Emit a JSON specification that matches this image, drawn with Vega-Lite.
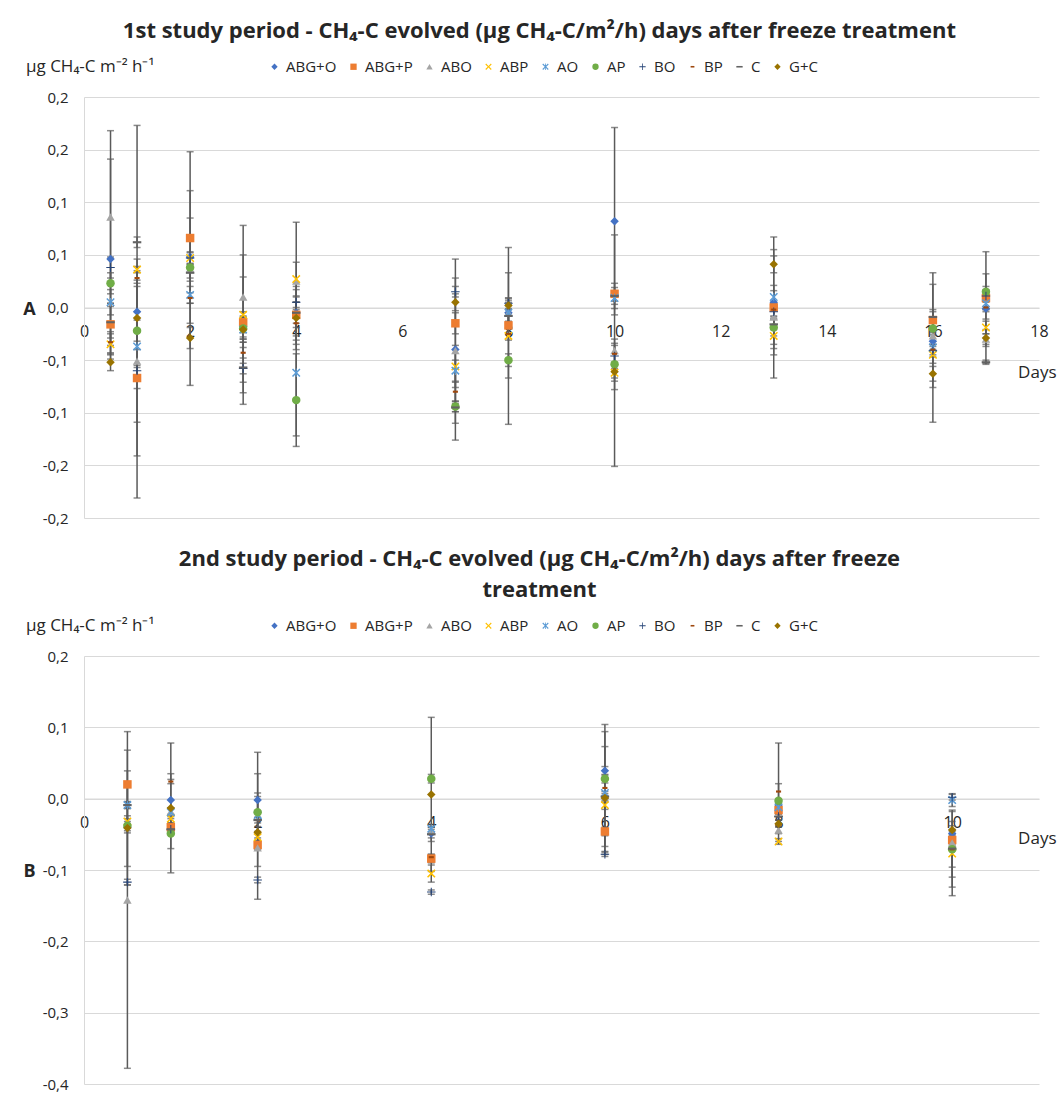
{
  "$schema": "https://vega.github.io/schema/vega-lite/v6.json",
  "padding": {"left": 22, "top": 20, "right": 2, "bottom": 2},
  "background": "white",
  "spacing": 22,
  "resolve": {"scale": {"color": "independent", "shape": "independent"}, "legend": {"color": "independent", "shape": "independent"}},
  "config": {
    "font": "Open Sans",
    "view": {"stroke": null},
    "title": {"fontSize": 22, "fontWeight": "bold", "color": "#262626", "font": "Open Sans", "frame": "bounds", "anchor": "middle", "offset": 16},
    "legend": {"orient": "none", "direction": "horizontal", "columns": 10, "titleOrient": "left", "titleFontSize": 17, "titleFontWeight": "normal", "titleColor": "#262626", "titlePadding": 112, "labelFontSize": 15, "labelColor": "#262626", "symbolSize": 40, "columnPadding": 9, "labelOffset": 4, "titleFont": "Open Sans", "labelFont": "Open Sans"}
  },
  "datasets": {
    "p1": [
      {"d":0.5,"t":"ABG+O","v":0.046,"lo":-0.049,"hi":0.141},
      {"d":1,"t":"ABG+O","v":-0.004,"lo":-0.181,"hi":0.173},
      {"d":2,"t":"ABG+O","v":0.048,"lo":-0.015,"hi":0.111},
      {"d":3,"t":"ABG+O","v":-0.018,"lo":-0.028,"hi":-0.008},
      {"d":4,"t":"ABG+O","v":-0.005,"lo":-0.015,"hi":0.005},
      {"d":7,"t":"ABG+O","v":-0.040,"lo":-0.126,"hi":0.046},
      {"d":8,"t":"ABG+O","v":-0.005,"lo":-0.015,"hi":0.005},
      {"d":10,"t":"ABG+O","v":0.082,"lo":-0.007,"hi":0.171},
      {"d":13,"t":"ABG+O","v":0.005,"lo":-0.045,"hi":0.055},
      {"d":16,"t":"ABG+O","v":-0.032,"lo":-0.040,"hi":-0.024},
      {"d":17,"t":"ABG+O","v":-0.001,"lo":-0.011,"hi":0.009},
      {"d":0.5,"t":"ABG+P","v":-0.016,"lo":-0.036,"hi":0.004},
      {"d":1,"t":"ABG+P","v":-0.067,"lo":-0.077,"hi":-0.057},
      {"d":2,"t":"ABG+P","v":0.066,"lo":0.047,"hi":0.085},
      {"d":3,"t":"ABG+P","v":-0.014,"lo":-0.024,"hi":-0.004},
      {"d":4,"t":"ABG+P","v":-0.007,"lo":-0.019,"hi":0.005},
      {"d":7,"t":"ABG+P","v":-0.015,"lo":-0.025,"hi":-0.005},
      {"d":8,"t":"ABG+P","v":-0.017,"lo":-0.067,"hi":0.033},
      {"d":10,"t":"ABG+P","v":0.013,"lo":0.003,"hi":0.023},
      {"d":13,"t":"ABG+P","v":0.000,"lo":-0.067,"hi":0.067},
      {"d":16,"t":"ABG+P","v":-0.012,"lo":-0.022,"hi":-0.002},
      {"d":17,"t":"ABG+P","v":0.009,"lo":-0.002,"hi":0.020},
      {"d":0.5,"t":"ABO","v":0.086,"lo":0.004,"hi":0.168},
      {"d":1,"t":"ABO","v":-0.051,"lo":-0.141,"hi":0.039},
      {"d":2,"t":"ABO","v":0.037,"lo":-0.074,"hi":0.148},
      {"d":3,"t":"ABO","v":0.010,"lo":-0.030,"hi":0.050},
      {"d":4,"t":"ABO","v":0.025,"lo":-0.031,"hi":0.081},
      {"d":7,"t":"ABO","v":-0.041,"lo":-0.110,"hi":0.028},
      {"d":8,"t":"ABO","v":-0.005,"lo":-0.017,"hi":0.007},
      {"d":10,"t":"ABO","v":-0.041,"lo":-0.151,"hi":0.069},
      {"d":13,"t":"ABO","v":-0.009,"lo":-0.039,"hi":0.021},
      {"d":16,"t":"ABO","v":-0.027,"lo":-0.076,"hi":0.022},
      {"d":17,"t":"ABO","v":-0.030,"lo":-0.035,"hi":-0.025},
      {"d":0.5,"t":"ABP","v":-0.035,"lo":-0.045,"hi":-0.025},
      {"d":1,"t":"ABP","v":0.036,"lo":0.026,"hi":0.046},
      {"d":2,"t":"ABP","v":0.047,"lo":0.042,"hi":0.052},
      {"d":3,"t":"ABP","v":-0.007,"lo":-0.092,"hi":0.078},
      {"d":4,"t":"ABP","v":0.027,"lo":0.011,"hi":0.043},
      {"d":7,"t":"ABP","v":-0.056,"lo":-0.076,"hi":-0.036},
      {"d":8,"t":"ABP","v":-0.027,"lo":-0.111,"hi":0.057},
      {"d":10,"t":"ABP","v":-0.062,"lo":-0.070,"hi":-0.054},
      {"d":13,"t":"ABP","v":-0.027,"lo":-0.035,"hi":-0.019},
      {"d":16,"t":"ABP","v":-0.045,"lo":-0.053,"hi":-0.037},
      {"d":17,"t":"ABP","v":-0.019,"lo":-0.025,"hi":-0.013},
      {"d":0.5,"t":"AO","v":0.005,"lo":-0.007,"hi":0.017},
      {"d":1,"t":"AO","v":-0.037,"lo":-0.109,"hi":0.035},
      {"d":2,"t":"AO","v":0.012,"lo":0.004,"hi":0.020},
      {"d":3,"t":"AO","v":-0.021,"lo":-0.033,"hi":-0.009},
      {"d":4,"t":"AO","v":-0.062,"lo":-0.122,"hi":-0.002},
      {"d":7,"t":"AO","v":-0.060,"lo":-0.070,"hi":-0.050},
      {"d":8,"t":"AO","v":-0.005,"lo":-0.013,"hi":0.003},
      {"d":10,"t":"AO","v":0.009,"lo":-0.001,"hi":0.019},
      {"d":13,"t":"AO","v":0.010,"lo":0.004,"hi":0.016},
      {"d":16,"t":"AO","v":-0.038,"lo":-0.109,"hi":0.033},
      {"d":17,"t":"AO","v":0.004,"lo":-0.004,"hi":0.012},
      {"d":0.5,"t":"AP","v":0.023,"lo":0.013,"hi":0.033},
      {"d":1,"t":"AP","v":-0.022,"lo":-0.032,"hi":-0.012},
      {"d":2,"t":"AP","v":0.038,"lo":0.028,"hi":0.048},
      {"d":3,"t":"AP","v":-0.020,"lo":-0.030,"hi":-0.010},
      {"d":4,"t":"AP","v":-0.088,"lo":-0.132,"hi":-0.044},
      {"d":7,"t":"AP","v":-0.094,"lo":-0.099,"hi":-0.089},
      {"d":8,"t":"AP","v":-0.050,"lo":-0.056,"hi":-0.044},
      {"d":10,"t":"AP","v":-0.054,"lo":-0.078,"hi":-0.030},
      {"d":13,"t":"AP","v":-0.019,"lo":-0.027,"hi":-0.011},
      {"d":16,"t":"AP","v":-0.020,"lo":-0.026,"hi":-0.014},
      {"d":17,"t":"AP","v":0.015,"lo":-0.002,"hi":0.032},
      {"d":0.5,"t":"BO","v":0.038,"lo":0.028,"hi":0.048},
      {"d":1,"t":"BO","v":-0.060,"lo":-0.065,"hi":-0.055},
      {"d":2,"t":"BO","v":0.047,"lo":0.041,"hi":0.053},
      {"d":3,"t":"BO","v":-0.058,"lo":-0.063,"hi":-0.053},
      {"d":4,"t":"BO","v":0.005,"lo":0.000,"hi":0.010},
      {"d":7,"t":"BO","v":0.015,"lo":0.010,"hi":0.020},
      {"d":8,"t":"BO","v":0.004,"lo":-0.001,"hi":0.009},
      {"d":10,"t":"BO","v":-0.046,"lo":-0.058,"hi":-0.034},
      {"d":13,"t":"BO","v":-0.004,"lo":-0.009,"hi":0.001},
      {"d":16,"t":"BO","v":-0.041,"lo":-0.047,"hi":-0.035},
      {"d":17,"t":"BO","v":0.011,"lo":0.005,"hi":0.017},
      {"d":0.5,"t":"BP","v":-0.033,"lo":-0.043,"hi":-0.023},
      {"d":1,"t":"BP","v":0.028,"lo":0.023,"hi":0.033},
      {"d":2,"t":"BP","v":0.009,"lo":0.004,"hi":0.014},
      {"d":3,"t":"BP","v":-0.043,"lo":-0.048,"hi":-0.038},
      {"d":4,"t":"BP","v":-0.015,"lo":-0.035,"hi":0.005},
      {"d":7,"t":"BP","v":-0.080,"lo":-0.089,"hi":-0.071},
      {"d":8,"t":"BP","v":-0.025,"lo":-0.031,"hi":-0.019},
      {"d":10,"t":"BP","v":-0.044,"lo":-0.052,"hi":-0.036},
      {"d":13,"t":"BP","v":-0.002,"lo":-0.008,"hi":0.004},
      {"d":16,"t":"BP","v":-0.040,"lo":-0.045,"hi":-0.035},
      {"d":17,"t":"BP","v":0.000,"lo":-0.053,"hi":0.053},
      {"d":0.5,"t":"C","v":-0.014,"lo":-0.029,"hi":0.001},
      {"d":1,"t":"C","v":0.062,"lo":0.057,"hi":0.067},
      {"d":2,"t":"C","v":0.033,"lo":0.025,"hi":0.041},
      {"d":3,"t":"C","v":-0.057,"lo":-0.081,"hi":-0.033},
      {"d":4,"t":"C","v":-0.005,"lo":-0.027,"hi":0.017},
      {"d":7,"t":"C","v":-0.095,"lo":-0.099,"hi":-0.091},
      {"d":8,"t":"C","v":-0.008,"lo":-0.014,"hi":-0.002},
      {"d":10,"t":"C","v":0.011,"lo":0.006,"hi":0.016},
      {"d":13,"t":"C","v":-0.016,"lo":-0.021,"hi":-0.011},
      {"d":16,"t":"C","v":-0.009,"lo":-0.014,"hi":-0.004},
      {"d":17,"t":"C","v":-0.052,"lo":-0.054,"hi":-0.050},
      {"d":0.5,"t":"G+C","v":-0.052,"lo":-0.060,"hi":-0.044},
      {"d":1,"t":"G+C","v":-0.010,"lo":-0.040,"hi":0.020},
      {"d":2,"t":"G+C","v":-0.029,"lo":-0.039,"hi":-0.019},
      {"d":3,"t":"G+C","v":-0.021,"lo":-0.071,"hi":0.029},
      {"d":4,"t":"G+C","v":-0.010,"lo":-0.040,"hi":0.020},
      {"d":7,"t":"G+C","v":0.005,"lo":-0.003,"hi":0.013},
      {"d":8,"t":"G+C","v":0.002,"lo":-0.005,"hi":0.009},
      {"d":10,"t":"G+C","v":-0.061,"lo":-0.067,"hi":-0.055},
      {"d":13,"t":"G+C","v":0.041,"lo":0.033,"hi":0.049},
      {"d":16,"t":"G+C","v":-0.063,"lo":-0.070,"hi":-0.056},
      {"d":17,"t":"G+C","v":-0.029,"lo":-0.037,"hi":-0.021}
    ],
    "p2": [
      {"d":0.5,"t":"ABG+O","v":-0.040,"lo":-0.048,"hi":-0.032},
      {"d":1,"t":"ABG+O","v":-0.002,"lo":-0.039,"hi":0.035},
      {"d":2,"t":"ABG+O","v":-0.002,"lo":-0.069,"hi":0.065},
      {"d":4,"t":"ABG+O","v":-0.049,"lo":-0.055,"hi":-0.043},
      {"d":6,"t":"ABG+O","v":0.039,"lo":0.033,"hi":0.045},
      {"d":8,"t":"ABG+O","v":-0.009,"lo":-0.017,"hi":-0.001},
      {"d":10,"t":"ABG+O","v":-0.049,"lo":-0.055,"hi":-0.043},
      {"d":0.5,"t":"ABG+P","v":0.020,"lo":-0.028,"hi":0.068},
      {"d":1,"t":"ABG+P","v":-0.040,"lo":-0.046,"hi":-0.034},
      {"d":2,"t":"ABG+P","v":-0.065,"lo":-0.071,"hi":-0.059},
      {"d":4,"t":"ABG+P","v":-0.084,"lo":-0.090,"hi":-0.078},
      {"d":6,"t":"ABG+P","v":-0.046,"lo":-0.052,"hi":-0.040},
      {"d":8,"t":"ABG+P","v":-0.016,"lo":-0.022,"hi":-0.010},
      {"d":10,"t":"ABG+P","v":-0.058,"lo":-0.064,"hi":-0.052},
      {"d":0.5,"t":"ABO","v":-0.142,"lo":-0.378,"hi":0.094},
      {"d":1,"t":"ABO","v":-0.018,"lo":-0.023,"hi":-0.013},
      {"d":2,"t":"ABO","v":-0.069,"lo":-0.141,"hi":0.003},
      {"d":4,"t":"ABO","v":-0.045,"lo":-0.050,"hi":-0.040},
      {"d":6,"t":"ABO","v":0.005,"lo":0.000,"hi":0.010},
      {"d":8,"t":"ABO","v":-0.044,"lo":-0.049,"hi":-0.039},
      {"d":10,"t":"ABO","v":-0.062,"lo":-0.067,"hi":-0.057},
      {"d":0.5,"t":"ABP","v":-0.032,"lo":-0.040,"hi":-0.024},
      {"d":1,"t":"ABP","v":-0.028,"lo":-0.034,"hi":-0.022},
      {"d":2,"t":"ABP","v":-0.054,"lo":-0.060,"hi":-0.048},
      {"d":4,"t":"ABP","v":-0.105,"lo":-0.117,"hi":-0.093},
      {"d":6,"t":"ABP","v":-0.009,"lo":-0.015,"hi":-0.003},
      {"d":8,"t":"ABP","v":-0.060,"lo":-0.064,"hi":-0.056},
      {"d":10,"t":"ABP","v":-0.077,"lo":-0.136,"hi":-0.018},
      {"d":0.5,"t":"AO","v":-0.009,"lo":-0.014,"hi":-0.004},
      {"d":1,"t":"AO","v":-0.019,"lo":-0.025,"hi":-0.013},
      {"d":2,"t":"AO","v":-0.023,"lo":-0.029,"hi":-0.017},
      {"d":4,"t":"AO","v":-0.042,"lo":-0.048,"hi":-0.036},
      {"d":6,"t":"AO","v":0.008,"lo":-0.078,"hi":0.094},
      {"d":8,"t":"AO","v":-0.012,"lo":-0.017,"hi":-0.007},
      {"d":10,"t":"AO","v":-0.002,"lo":-0.011,"hi":0.007},
      {"d":0.5,"t":"AP","v":-0.038,"lo":-0.095,"hi":0.019},
      {"d":1,"t":"AP","v":-0.049,"lo":-0.070,"hi":-0.028},
      {"d":2,"t":"AP","v":-0.019,"lo":-0.046,"hi":0.008},
      {"d":4,"t":"AP","v":0.028,"lo":0.022,"hi":0.034},
      {"d":6,"t":"AP","v":0.028,"lo":0.022,"hi":0.034},
      {"d":8,"t":"AP","v":-0.003,"lo":-0.060,"hi":0.078},
      {"d":10,"t":"AP","v":-0.071,"lo":-0.096,"hi":-0.046},
      {"d":0.5,"t":"BO","v":-0.117,"lo":-0.121,"hi":-0.113},
      {"d":1,"t":"BO","v":-0.043,"lo":-0.048,"hi":-0.038},
      {"d":2,"t":"BO","v":-0.114,"lo":-0.118,"hi":-0.110},
      {"d":4,"t":"BO","v":-0.131,"lo":-0.134,"hi":-0.128},
      {"d":6,"t":"BO","v":-0.078,"lo":-0.081,"hi":-0.075},
      {"d":8,"t":"BO","v":-0.025,"lo":-0.030,"hi":-0.020},
      {"d":10,"t":"BO","v":0.002,"lo":-0.002,"hi":0.006},
      {"d":0.5,"t":"BP","v":-0.040,"lo":-0.045,"hi":-0.035},
      {"d":1,"t":"BP","v":0.024,"lo":0.021,"hi":0.027},
      {"d":2,"t":"BP","v":-0.030,"lo":-0.034,"hi":-0.026},
      {"d":4,"t":"BP","v":-0.082,"lo":-0.086,"hi":-0.078},
      {"d":6,"t":"BP","v":0.015,"lo":-0.074,"hi":0.104},
      {"d":8,"t":"BP","v":0.010,"lo":-0.001,"hi":0.021},
      {"d":10,"t":"BP","v":-0.071,"lo":-0.110,"hi":-0.032},
      {"d":0.5,"t":"C","v":-0.009,"lo":-0.013,"hi":-0.005},
      {"d":1,"t":"C","v":-0.043,"lo":-0.049,"hi":-0.037},
      {"d":2,"t":"C","v":-0.030,"lo":-0.095,"hi":0.035},
      {"d":4,"t":"C","v":-0.050,"lo":-0.060,"hi":-0.040},
      {"d":6,"t":"C","v":0.003,"lo":-0.067,"hi":0.073},
      {"d":8,"t":"C","v":-0.025,"lo":-0.030,"hi":-0.020},
      {"d":10,"t":"C","v":-0.070,"lo":-0.124,"hi":-0.016},
      {"d":0.5,"t":"G+C","v":-0.041,"lo":-0.121,"hi":0.039},
      {"d":1,"t":"G+C","v":-0.013,"lo":-0.104,"hi":0.078},
      {"d":2,"t":"G+C","v":-0.047,"lo":-0.055,"hi":-0.039},
      {"d":4,"t":"G+C","v":0.006,"lo":-0.102,"hi":0.114},
      {"d":6,"t":"G+C","v":0.001,"lo":-0.005,"hi":0.007},
      {"d":8,"t":"G+C","v":-0.035,"lo":-0.040,"hi":-0.030},
      {"d":10,"t":"G+C","v":-0.044,"lo":-0.050,"hi":-0.038}
    ]
  },
  "vconcat": [
    {
      "title": {"text": "1st study period - CH₄-C evolved (µg CH₄-C/m²/h)  days after freeze treatment"},
      "width": 955,
      "height": 421,
      "data": {"name": "p1"},
      "layer": [
        {
          "mark": {"type": "errorbar", "ticks": true, "color": "#5A5A5A", "thickness": 1.5, "size": 7},
          "encoding": {
            "x": {"field": "d", "type": "quantitative", "scale": {"domain": [0, 18]}, "axis": {"title": "Days", "values": [0,2,4,6,8,10,12,14,16,18], "offset": -210.5, "grid": false, "ticks": false, "domainColor": "#D9D9D9", "labelFontSize": 16, "labelColor": "#262626", "labelPadding": 16, "labelFlush": false, "titleX": 972, "titleY": 65, "titleAlign": "right", "titleBaseline": "middle", "titleFontWeight": "normal", "titleFontSize": 17, "titleColor": "#262626"}},
            "y": {"field": "lo", "type": "quantitative", "scale": {"domain": [-0.2, 0.2]}, "axis": {"title": "A", "titleAngle": 0, "titleX": -55, "titleY": 212, "titleAlign": "center", "titleBaseline": "middle", "titleFontSize": 18, "titleFontWeight": "bold", "titleColor": "#262626", "values": [-0.2,-0.15,-0.1,-0.05,0,0.05,0.1,0.15,0.2], "labelExpr": "(datum.value < -0.001 ? '-' : '') + replace(format(abs(datum.value) + 0.0001, '.1f'), '.', ',')", "labelFontSize": 15, "labelColor": "#262626", "labelPadding": 16, "ticks": false, "domainColor": "#D9D9D9", "grid": true, "gridColor": "#D9D9D9"}},
            "y2": {"field": "hi"}
          }
        },
        {
          "mark": {"type": "point", "filled": true, "opacity": 1, "size": 72},
          "encoding": {
            "x": {"field": "d", "type": "quantitative", "axis": {"title": "Days", "values": [0,2,4,6,8,10,12,14,16,18], "offset": -210.5, "grid": false, "ticks": false, "domainColor": "#D9D9D9", "labelFontSize": 16, "labelColor": "#262626", "labelPadding": 16, "labelFlush": false, "titleX": 972, "titleY": 65, "titleAlign": "right", "titleBaseline": "middle", "titleFontWeight": "normal", "titleFontSize": 17, "titleColor": "#262626"}},
            "y": {"field": "v", "type": "quantitative", "axis": {"title": "A", "titleAngle": 0, "titleX": -55, "titleY": 212, "titleAlign": "center", "titleBaseline": "middle", "titleFontSize": 18, "titleFontWeight": "bold", "titleColor": "#262626", "values": [-0.2,-0.15,-0.1,-0.05,0,0.05,0.1,0.15,0.2], "labelExpr": "(datum.value < -0.001 ? '-' : '') + replace(format(abs(datum.value) + 0.0001, '.1f'), '.', ',')", "labelFontSize": 15, "labelColor": "#262626", "labelPadding": 16, "ticks": false, "domainColor": "#D9D9D9", "grid": true, "gridColor": "#D9D9D9"}},
            "color": {"field": "t", "type": "nominal", "scale": {"domain": ["ABG+O","ABG+P","ABO","ABP","AO","AP","BO","BP","C","G+C"], "range": ["#4472C4","#ED7D31","#A5A5A5","#FFC000","#5B9BD5","#70AD47","#264478","#9E480E","#636363","#997300"]}, "legend": {"title": "µg CH₄-C m⁻² h⁻¹", "legendX": -58, "legendY": -38}},
            "shape": {"field": "t", "type": "nominal", "scale": {"domain": ["ABG+O","ABG+P","ABO","ABP","AO","AP","BO","BP","C","G+C"], "range": ["diamond","square","triangle-up","M-1,-0.75L-0.75,-1L0,-0.25L0.75,-1L1,-0.75L0.25,0L1,0.75L0.75,1L0,0.25L-0.75,1L-1,0.75L-0.25,0Z","M-1,-0.75L-0.75,-1L0,-0.25L0.75,-1L1,-0.75L0.25,0L1,0.75L0.75,1L0,0.25L-0.75,1L-1,0.75L-0.25,0ZM-0.12,-1L0.12,-1L0.12,1L-0.12,1Z","circle","M-1,-0.12L-0.12,-0.12L-0.12,-1L0.12,-1L0.12,-0.12L1,-0.12L1,0.12L0.12,0.12L0.12,1L-0.12,1L-0.12,0.12L-1,0.12Z","M-0.6,-0.25L0.6,-0.25L0.6,0.25L-0.6,0.25Z","M-1,-0.25L1,-0.25L1,0.25L-1,0.25Z","diamond"]}, "legend": {"title": "µg CH₄-C m⁻² h⁻¹", "legendX": -58, "legendY": -38}}
          }
        }
      ]
    },
    {
      "title": {"text": ["2nd study period - CH₄-C evolved (µg CH₄-C/m²/h) days after freeze", "treatment"], "lineHeight": 31},
      "width": 955,
      "height": 428,
      "data": {"name": "p2"},
      "layer": [
        {
          "mark": {"type": "errorbar", "ticks": true, "color": "#5A5A5A", "thickness": 1.5, "size": 7},
          "encoding": {
            "x": {"field": "d", "type": "quantitative", "scale": {"domain": [0, 11]}, "axis": {"title": "Days", "values": [0,2,4,6,8,10], "offset": -285.5, "grid": false, "ticks": false, "domainColor": "#D9D9D9", "labelFontSize": 16, "labelColor": "#262626", "labelPadding": 16, "labelFlush": false, "titleX": 972, "titleY": 40, "titleAlign": "right", "titleBaseline": "middle", "titleFontWeight": "normal", "titleFontSize": 17, "titleColor": "#262626"}},
            "y": {"field": "lo", "type": "quantitative", "scale": {"domain": [-0.4, 0.2]}, "axis": {"title": "B", "titleAngle": 0, "titleX": -55, "titleY": 215, "titleAlign": "center", "titleBaseline": "middle", "titleFontSize": 18, "titleFontWeight": "bold", "titleColor": "#262626", "values": [-0.4,-0.3,-0.2,-0.1,0,0.1,0.2], "labelExpr": "(datum.value < -0.001 ? '-' : '') + replace(format(abs(datum.value) + 0.0001, '.1f'), '.', ',')", "labelFontSize": 15, "labelColor": "#262626", "labelPadding": 16, "ticks": false, "domainColor": "#D9D9D9", "grid": true, "gridColor": "#D9D9D9"}},
            "y2": {"field": "hi"}
          }
        },
        {
          "mark": {"type": "point", "filled": true, "opacity": 1, "size": 72},
          "encoding": {
            "x": {"field": "d", "type": "quantitative", "axis": {"title": "Days", "values": [0,2,4,6,8,10], "offset": -285.5, "grid": false, "ticks": false, "domainColor": "#D9D9D9", "labelFontSize": 16, "labelColor": "#262626", "labelPadding": 16, "labelFlush": false, "titleX": 972, "titleY": 40, "titleAlign": "right", "titleBaseline": "middle", "titleFontWeight": "normal", "titleFontSize": 17, "titleColor": "#262626"}},
            "y": {"field": "v", "type": "quantitative", "axis": {"title": "B", "titleAngle": 0, "titleX": -55, "titleY": 215, "titleAlign": "center", "titleBaseline": "middle", "titleFontSize": 18, "titleFontWeight": "bold", "titleColor": "#262626", "values": [-0.4,-0.3,-0.2,-0.1,0,0.1,0.2], "labelExpr": "(datum.value < -0.001 ? '-' : '') + replace(format(abs(datum.value) + 0.0001, '.1f'), '.', ',')", "labelFontSize": 15, "labelColor": "#262626", "labelPadding": 16, "ticks": false, "domainColor": "#D9D9D9", "grid": true, "gridColor": "#D9D9D9"}},
            "color": {"field": "t", "type": "nominal", "scale": {"domain": ["ABG+O","ABG+P","ABO","ABP","AO","AP","BO","BP","C","G+C"], "range": ["#4472C4","#ED7D31","#A5A5A5","#FFC000","#5B9BD5","#70AD47","#264478","#9E480E","#636363","#997300"]}, "legend": {"title": "µg CH₄-C m⁻² h⁻¹", "legendX": -58, "legendY": -38}},
            "shape": {"field": "t", "type": "nominal", "scale": {"domain": ["ABG+O","ABG+P","ABO","ABP","AO","AP","BO","BP","C","G+C"], "range": ["diamond","square","triangle-up","M-1,-0.75L-0.75,-1L0,-0.25L0.75,-1L1,-0.75L0.25,0L1,0.75L0.75,1L0,0.25L-0.75,1L-1,0.75L-0.25,0Z","M-1,-0.75L-0.75,-1L0,-0.25L0.75,-1L1,-0.75L0.25,0L1,0.75L0.75,1L0,0.25L-0.75,1L-1,0.75L-0.25,0ZM-0.12,-1L0.12,-1L0.12,1L-0.12,1Z","circle","M-1,-0.12L-0.12,-0.12L-0.12,-1L0.12,-1L0.12,-0.12L1,-0.12L1,0.12L0.12,0.12L0.12,1L-0.12,1L-0.12,0.12L-1,0.12Z","M-0.6,-0.25L0.6,-0.25L0.6,0.25L-0.6,0.25Z","M-1,-0.25L1,-0.25L1,0.25L-1,0.25Z","diamond"]}, "legend": {"title": "µg CH₄-C m⁻² h⁻¹", "legendX": -58, "legendY": -38}}
          }
        }
      ]
    }
  ]
}
